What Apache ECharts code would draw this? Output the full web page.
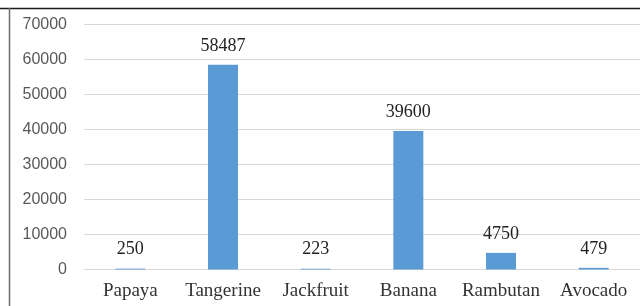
<!DOCTYPE html>
<html><head><meta charset="utf-8">
<script src="https://cdn.jsdelivr.net/npm/echarts@6/dist/echarts.min.js"></script>
<style>html,body{margin:0;padding:0;background:#fff}#c{width:640px;height:306px}</style>
</head><body><div id="c"></div>
<script>
var categories = ['Papaya','Tangerine','Jackfruit','Banana','Rambutan','Avocado'];
var values = [250, 58487, 223, 39600, 4750, 479];
var yMin = 0, yMax = 70000, yStep = 10000;

var chart = echarts.init(document.getElementById('c'));
chart.setOption({
  animation: false,
  backgroundColor: '#fff',
  grid: {left: 84, top: 24.5, width: 561, height: 245},
  graphic: [
    {type:'line', shape:{x1:0,y1:8.5,x2:640,y2:8.5}, style:{stroke:'#1a1a1a', lineWidth:1.5}, silent:true},
    {type:'line', shape:{x1:9.5,y1:8,x2:9.5,y2:306}, style:{stroke:'#6e6e6e', lineWidth:1.5}, silent:true}
  ],
  xAxis: {
    type: 'category', data: categories,
    axisLine: {show: true, lineStyle: {color: '#d9d9d9', width: 1}},
    axisTick: {show: false},
    axisLabel: {interval: 0, hideOverlap: false, margin: 12, color: '#333', fontFamily: 'Liberation Serif', fontSize: 19}
  },
  yAxis: {
    type: 'value', min: yMin, max: yMax, interval: yStep,
    axisLine: {show: false}, axisTick: {show: false},
    splitLine: {lineStyle: {color: '#d9d9d9', width: 1}},
    axisLabel: {margin: 17, color: '#595959', fontFamily: 'Liberation Sans', fontSize: 16,
      formatter: function (v) { return String(v); }}
  },
  series: [{
    type: 'bar', data: values, barWidth: 30,
    itemStyle: {color: '#5b9bd5'},
    label: {show: true, position: 'top', distance: 10, color: '#222', fontFamily: 'Liberation Serif', fontSize: 18}
  }]
});
</script></body></html>
